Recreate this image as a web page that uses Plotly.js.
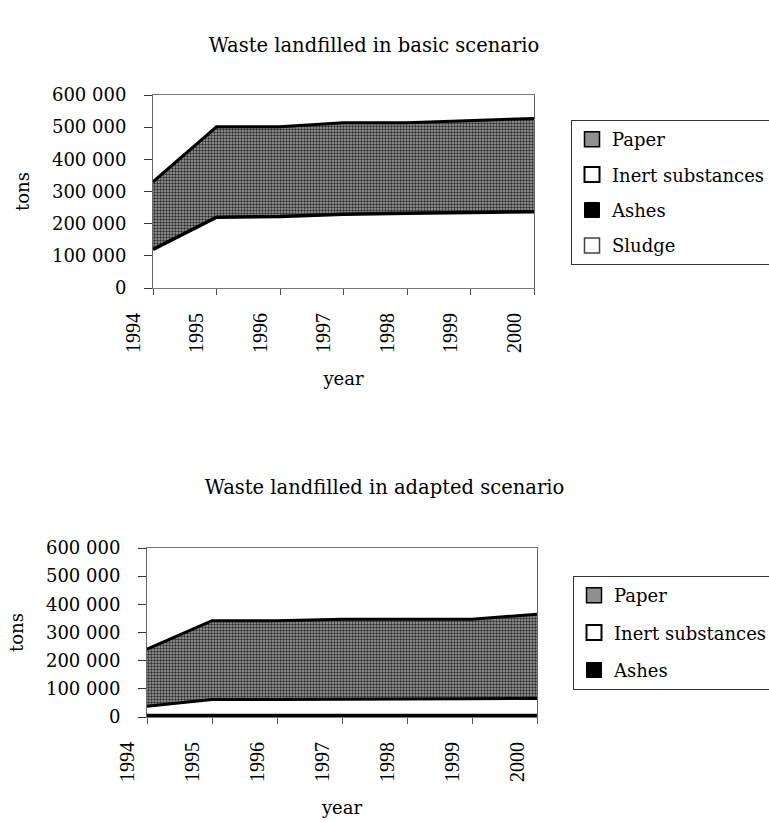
<!DOCTYPE html>
<html>
<head>
<meta charset="utf-8">
<script src="https://cdn.plot.ly/plotly-3.0.1.min.js"></script>
<style>
  html, body { margin: 0; padding: 0; background: #fff; }
  #top, #bottom { width: 769px; height: 411px; }
</style>
</head>
<body>
<div id="top"></div>
<div id="bottom"></div>
<script>
// ---- data ----
const years = [1994, 1995, 1996, 1997, 1998, 1999, 2000];
const yTicks = [0, 100000, 200000, 300000, 400000, 500000, 600000];

// Basic scenario (tons)
const basicSludge = [0, 0, 0, 0, 0, 0, 0];
const basicAshes  = [0, 0, 0, 0, 0, 0, 0];
const basicInert  = [120000, 220000, 222000, 229000, 232000, 234000, 237000];
const basicPaper  = [210000, 281000, 279000, 285000, 282000, 286000, 290000];

// Adapted scenario (tons)
const adaptedAshes = [6000, 6000, 6000, 6000, 6000, 6000, 6000];
const adaptedInert = [32000, 56000, 56000, 58000, 58000, 59000, 60000];
const adaptedPaper = [203000, 280000, 280000, 283000, 283000, 282000, 299000];

const FONT = 'DejaVu Serif, Liberation Serif, serif';
const XFONT = 'Liberation Serif, DejaVu Serif, serif';
const paperPattern = {shape: '.', bgcolor: '#a2a2a2', fgcolor: '#2e2e2e', size: 3, solidity: 0.5};

function areaTrace(name, y, style) {
  return Object.assign({
    type: 'scatter', mode: 'lines', x: years, y: y, name: name,
    stackgroup: 'waste', showlegend: false, hoverinfo: 'skip'
  }, style);
}
function legendTrace(name, color, lineStyle, group) {
  return {
    type: 'scatter', mode: 'markers', x: [null], y: [null], name: name,
    legendgroup: group, showlegend: true, hoverinfo: 'skip',
    marker: {symbol: 'square', size: 15, color: color, line: lineStyle}
  };
}

function baseLayout(opts) {
  return {
    width: 769, height: 411,
    paper_bgcolor: '#fff', plot_bgcolor: '#fff',
    separators: ', ',
    font: {family: FONT, size: 18, color: '#000'},
    margin: opts.margin,
    showlegend: true,
    title: {text: opts.title, font: {family: FONT, size: 19.5, color: '#000'},
            x: opts.titleX, xref: 'container', xanchor: 'center',
            y: opts.titleY, yref: 'container', yanchor: 'middle'},
    xaxis: {
      range: [1994, 2000], tickmode: 'array', tickvals: years, ticktext: years.map(String),
      tickangle: -90, ticks: 'outside', ticklen: 6, tickcolor: '#555', tickwidth: 1,
      ticklabelshift: -20, ticklabelstandoff: 10,
      showline: true, linecolor: '#777', linewidth: 1, mirror: true,
      showgrid: false, zeroline: false, fixedrange: true,
      tickfont: {family: XFONT, size: 20, color: '#000'},
      title: {text: 'year', standoff: 20, font: {family: FONT, size: 18, color: '#000'}}
    },
    yaxis: {
      range: [0, 600000], tickmode: 'array', tickvals: yTicks, tickformat: ',d',
      ticks: 'outside', ticklen: 8, tickcolor: '#333', tickwidth: 1,
      ticklabelstandoff: 14,
      showline: true, linecolor: '#666', linewidth: 1, mirror: true,
      showgrid: false, zeroline: false, fixedrange: true,
      tickfont: {family: FONT, size: 18, color: '#000'},
      title: {text: 'tons', standoff: 17, font: {family: FONT, size: 18, color: '#000'}}
    },
    legend: {
      x: opts.legendX, y: opts.legendY, xref: 'container', yref: 'container',
      xanchor: 'left', yanchor: 'top',
      bgcolor: '#fff', bordercolor: '#333', borderwidth: 1,
      traceorder: 'grouped', tracegroupgap: opts.legendGap, itemwidth: 30,
      font: {family: FONT, size: 18, color: '#000'}
    }
  };
}

// ---- top chart: basic scenario ----
const topData = [
  areaTrace('Sludge', basicSludge, {fillcolor: '#fff', line: {color: '#777', width: 1, dash: 'dot'}}),
  areaTrace('Ashes', basicAshes, {fillcolor: '#000', line: {color: '#000', width: 0}}),
  areaTrace('Inert substances', basicInert, {fillcolor: '#fff', line: {color: '#000', width: 3.5}}),
  areaTrace('Paper', basicPaper, {fillcolor: '#9a9a9a', fillpattern: paperPattern, line: {color: '#000', width: 3}}),
  legendTrace('Paper', '#8f8f8f', {color: '#000', width: 1.5}, 'g1'),
  legendTrace('Inert substances', '#fff', {color: '#000', width: 2}, 'g2'),
  legendTrace('Ashes', '#000', {color: '#000', width: 1}, 'g3'),
  legendTrace('Sludge', '#fff', {color: '#444', width: 1.5}, 'g4')
];
const topLayout = baseLayout({
  title: 'Waste landfilled in basic scenario',
  titleX: 374 / 769, titleY: 1 - 45 / 411,
  margin: {l: 153, r: 235, t: 95, b: 123, pad: 0},
  legendX: 571 / 769, legendY: 1 - 120 / 411, legendGap: 9
});

// ---- bottom chart: adapted scenario ----
const bottomData = [
  areaTrace('Ashes', adaptedAshes, {fillcolor: '#000', line: {color: '#000', width: 3}}),
  areaTrace('Inert substances', adaptedInert, {fillcolor: '#fff', line: {color: '#000', width: 3}}),
  areaTrace('Paper', adaptedPaper, {fillcolor: '#9a9a9a', fillpattern: paperPattern, line: {color: '#000', width: 3}}),
  legendTrace('Paper', '#8f8f8f', {color: '#000', width: 1.5}, 'g1'),
  legendTrace('Inert substances', '#fff', {color: '#000', width: 2}, 'g2'),
  legendTrace('Ashes', '#000', {color: '#000', width: 1}, 'g3')
];
const bottomLayout = baseLayout({
  title: 'Waste landfilled in adapted scenario',
  titleX: 0.5, titleY: 1 - 76 / 411,
  margin: {l: 147, r: 232, t: 137, b: 105, pad: 0},
  legendX: 573 / 769, legendY: 1 - 165 / 411, legendGap: 11
});

const config = {displayModeBar: false, staticPlot: true};
Plotly.newPlot('top', topData, topLayout, config);
Plotly.newPlot('bottom', bottomData, bottomLayout, config);
</script>
</body>
</html>
